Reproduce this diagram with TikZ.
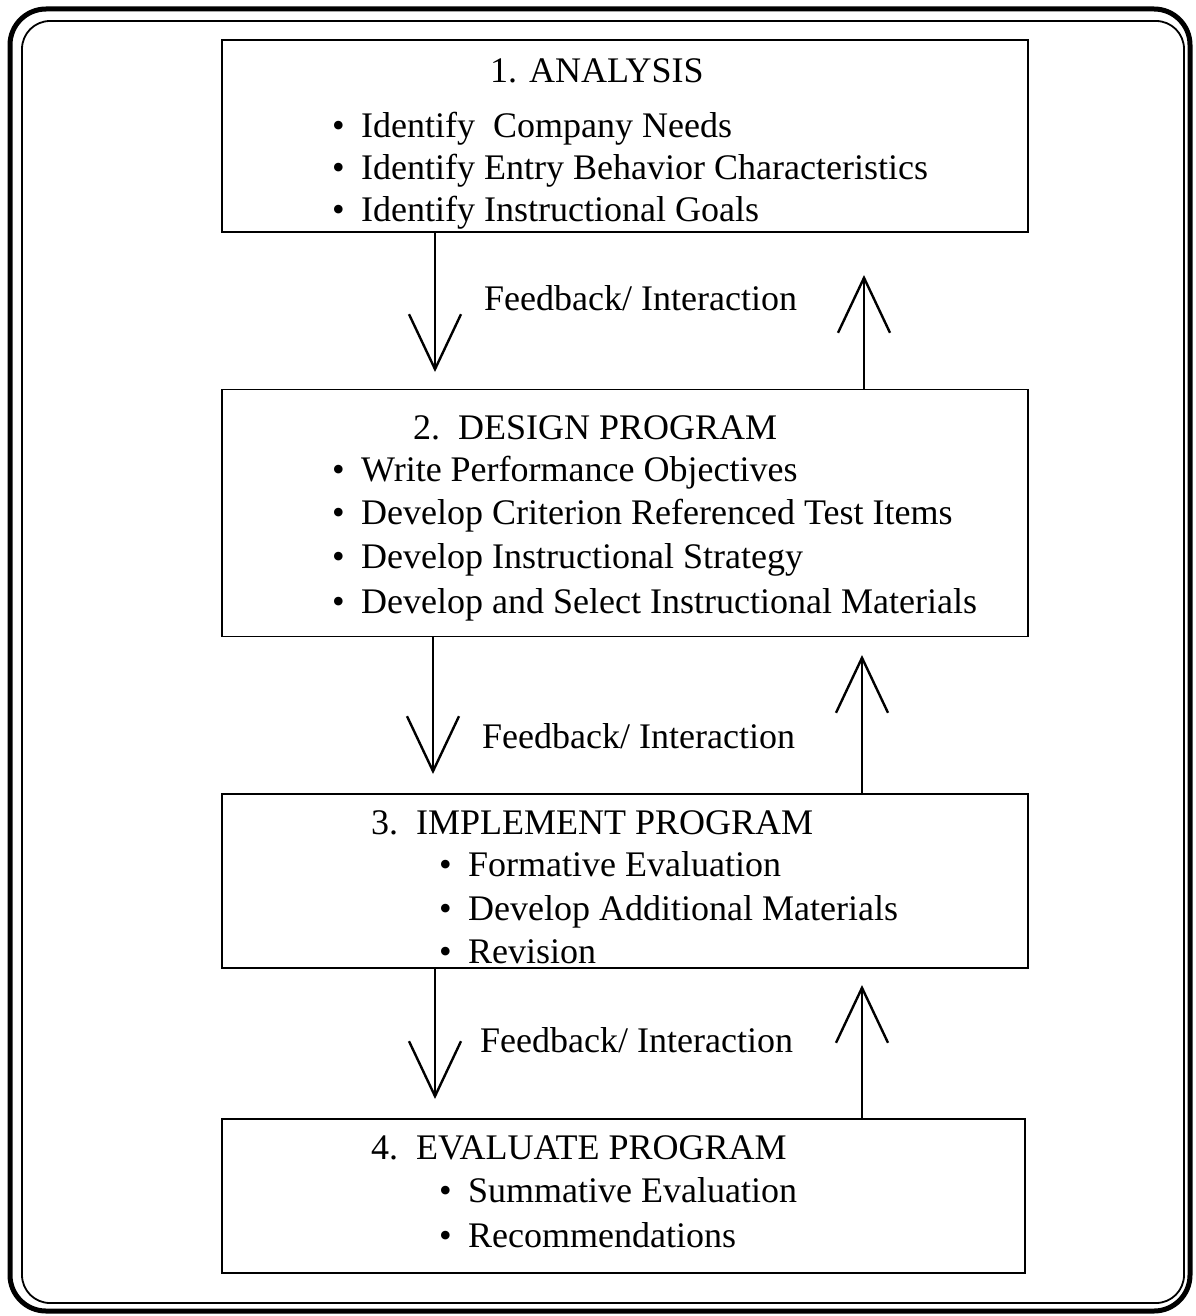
\documentclass[tikz,border=0pt]{standalone}
\usepackage{fontspec}
\setmainfont{Liberation Serif}
\usetikzlibrary{arrows.meta}
\begin{document}
\begin{tikzpicture}[x=1pt,y=-1pt,
  box/.style={draw,line width=1.8pt,rectangle,inner sep=0pt},
  txt/.style={anchor=base west,inner sep=0pt,font=\fontsize{36}{43}\selectfont},
  fb/.style={draw,line width=1.6pt,-{Straight Barb[length=55pt,width=52pt,line width=2.4pt]}}
]
\useasboundingbox (0,0) rectangle (1195,1316);
% frame
\draw[line width=5pt,rounded corners=36pt] (10,9) rectangle (1190,1311);
\draw[line width=1.8pt,rounded corners=28pt] (22,21) rectangle (1184,1303);
% boxes
\node[box,minimum width=806pt,minimum height=192pt] (b1) at (625,136) {};
\node[box,minimum width=806pt,minimum height=247pt] (b2) at (625,513) {};
\node[box,minimum width=806pt,minimum height=174pt] (b3) at (625,881) {};
\node[box,minimum width=803pt,minimum height=154pt] (b4) at (623.5,1196) {};
% box 1
\node[txt] (t1) at (490,83) {1. ANALYSIS};
\node[txt] (i11) at (332,138) {\makebox[29pt][l]{•}Identify\ \ Company Needs};
\node[txt] (i12) at (332,180) {\makebox[29pt][l]{•}Identify Entry Behavior Characteristics};
\node[txt] (i13) at (332,222) {\makebox[29pt][l]{•}Identify Instructional Goals};
% box 2
\node[txt] (t2) at (413,439) {2.\ \ DESIGN PROGRAM};
\node[txt] (i21) at (332,481) {\makebox[29pt][l]{•}Write Performance Objectives};
\node[txt] (i22) at (332,524) {\makebox[29pt][l]{•}Develop Criterion Referenced Test Items};
\node[txt] (i23) at (332,568) {\makebox[29pt][l]{•}Develop Instructional Strategy};
\node[txt] (i24) at (332,613) {\makebox[29pt][l]{•}Develop and Select Instructional Materials};
% box 3
\node[txt] (t3) at (371,834) {3.\ \ IMPLEMENT PROGRAM};
\node[txt] (i31) at (439,876) {\makebox[29pt][l]{•}Formative Evaluation};
\node[txt] (i32) at (439,920) {\makebox[29pt][l]{•}Develop Additional Materials};
\node[txt] (i33) at (439,963) {\makebox[29pt][l]{•}Revision};
% box 4
\node[txt] (t4) at (371,1159) {4.\ \ EVALUATE PROGRAM};
\node[txt] (i41) at (439,1202) {\makebox[29pt][l]{•}Summative Evaluation};
\node[txt] (i42) at (439,1247) {\makebox[29pt][l]{•}Recommendations};
% arrows
\coordinate (d1) at (435,372);
\coordinate (u1) at (864,275);
\coordinate (d2) at (433,774);
\coordinate (u2) at (862,655);
\coordinate (d3) at (435,1099);
\coordinate (u3) at (862,985);
\draw[fb] (b1.south -| d1) -- (d1);
\draw[fb] (b2.north -| u1) -- (u1);
\draw[fb] (b2.south -| d2) -- (d2);
\draw[fb] (b3.north -| u2) -- (u2);
\draw[fb] (b3.south -| d3) -- (d3);
\draw[fb] (b4.north -| u3) -- (u3);
% labels
\node[txt] (l1) at (484,310) {Feedback/ Interaction};
\node[txt] (l2) at (482,748) {Feedback/ Interaction};
\node[txt] (l3) at (480,1052) {Feedback/ Interaction};
\end{tikzpicture}
\end{document}
